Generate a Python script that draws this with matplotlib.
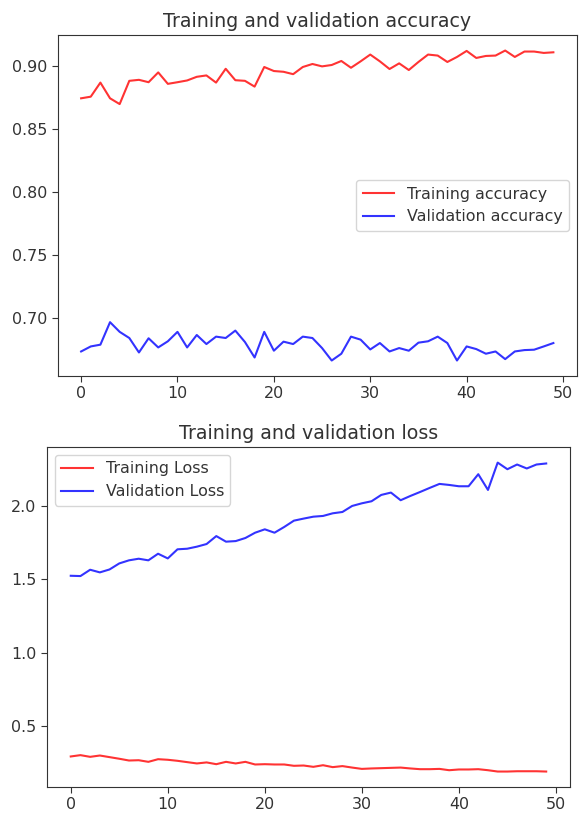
import matplotlib
matplotlib.use("Agg")
import matplotlib.pyplot as plt

acc = [0.8746, 0.8759, 0.8871, 0.8746, 0.8700, 0.8885, 0.8893, 0.8874, 0.8952, 0.8861,
       0.8874, 0.8888, 0.8917, 0.8928, 0.8871, 0.8981, 0.8890, 0.8885, 0.8839, 0.8995,
       0.8963, 0.8957, 0.8938, 0.8995, 0.9019, 0.9000, 0.9011, 0.9043, 0.8989, 0.9040,
       0.9094, 0.9040, 0.8979, 0.9024, 0.8971, 0.9035, 0.9094, 0.9086, 0.9035, 0.9075,
       0.9123, 0.9067, 0.9083, 0.9086, 0.9126, 0.9075, 0.9118, 0.9118, 0.9107, 0.9112]
val_acc = [0.6732, 0.6772, 0.6786, 0.6965, 0.6888, 0.6839, 0.6724, 0.6837, 0.6764, 0.6813,
           0.6888, 0.6764, 0.6863, 0.6791, 0.6850, 0.6839, 0.6898, 0.6807, 0.6684, 0.6888,
           0.6738, 0.6810, 0.6791, 0.6850, 0.6839, 0.6759, 0.6660, 0.6714, 0.6850, 0.6826,
           0.6748, 0.6799, 0.6732, 0.6759, 0.6738, 0.6802, 0.6813, 0.6850, 0.6799, 0.6660,
           0.6772, 0.6751, 0.6714, 0.6732, 0.6671, 0.6732, 0.6743, 0.6746, 0.6772, 0.6799]
loss = [0.2955, 0.3045, 0.293, 0.302, 0.291, 0.280, 0.268, 0.270, 0.259, 0.277,
        0.273, 0.266, 0.257, 0.248, 0.255, 0.243, 0.259, 0.248, 0.259, 0.241,
        0.243, 0.241, 0.241, 0.232, 0.234, 0.225, 0.236, 0.223, 0.230, 0.220,
        0.211, 0.214, 0.216, 0.218, 0.220, 0.214, 0.209, 0.209, 0.211, 0.202,
        0.207, 0.207, 0.209, 0.202, 0.193, 0.193, 0.195, 0.195, 0.195, 0.193]
val_loss = [1.525, 1.523, 1.566, 1.548, 1.568, 1.609, 1.630, 1.641, 1.630, 1.675,
            1.643, 1.705, 1.709, 1.723, 1.741, 1.795, 1.757, 1.761, 1.782, 1.818,
            1.841, 1.818, 1.857, 1.900, 1.914, 1.927, 1.932, 1.950, 1.959, 2.000,
            2.018, 2.032, 2.075, 2.091, 2.039, 2.068, 2.095, 2.123, 2.150, 2.143,
            2.134, 2.134, 2.216, 2.109, 2.295, 2.250, 2.282, 2.255, 2.282, 2.289]
epochs = range(len(acc))

# the screenshot is a bit enlarged, so text is scaled up too
plt.rcParams['font.size'] = 11.4
plt.rcParams['axes.titlesize'] = 13.7
plt.rcParams['xtick.major.size'] = 4
plt.rcParams['ytick.major.size'] = 4
plt.rcParams['text.color'] = '#333333'
plt.rcParams['xtick.color'] = '#333333'
plt.rcParams['ytick.color'] = '#333333'
plt.rcParams['axes.edgecolor'] = '#333333'

fig = plt.figure(figsize=(5.85, 8.13), dpi=100)

ax1 = fig.add_axes([0.0983, 0.5375, 0.888, 0.4194])
ax1.plot(epochs, acc, 'r', alpha=0.8, label='Training accuracy')
ax1.plot(epochs, val_acc, 'b', alpha=0.8, label='Validation accuracy')
ax1.set_title('Training and validation accuracy')
ax1.legend(loc='center right')

ax2 = fig.add_axes([0.0803, 0.032, 0.894, 0.418])
ax2.plot(epochs, loss, 'r', alpha=0.8, label='Training Loss')
ax2.plot(epochs, val_loss, 'b', alpha=0.8, label='Validation Loss')
ax2.set_title('Training and validation loss')
ax2.legend(loc='upper left')

plt.savefig("out.png", dpi=100)
